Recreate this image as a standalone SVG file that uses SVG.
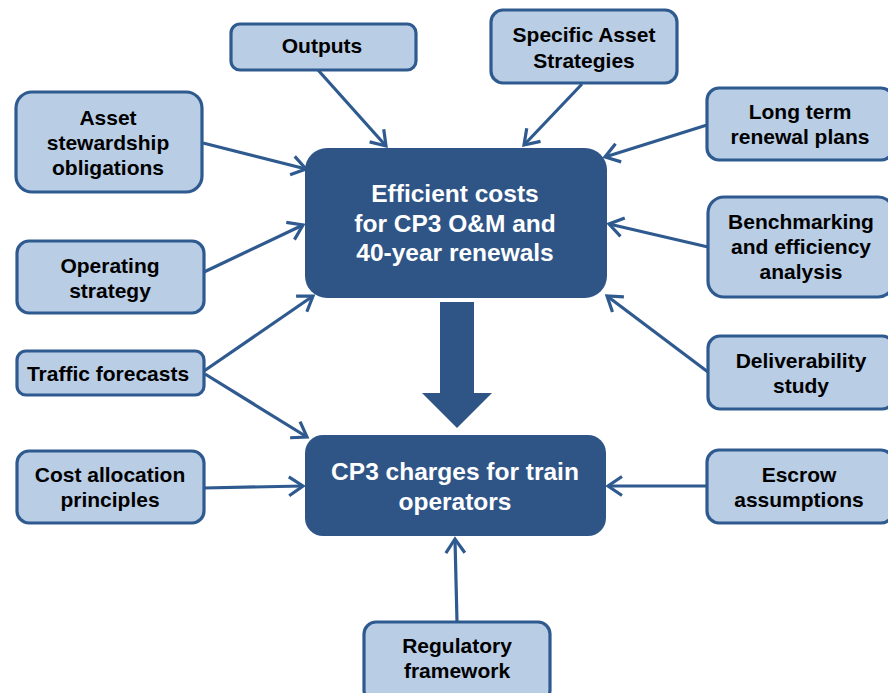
<svg xmlns="http://www.w3.org/2000/svg" width="888" height="693" viewBox="0 0 888 693">
<style>
.box{fill:#b9cde5;stroke:#2f5a8f;stroke-width:3.2}
.main{fill:#2f5587}
.t{font-family:"Liberation Sans",Arial,sans-serif;font-weight:bold;font-size:21px;fill:#000;text-anchor:middle}
.w{font-family:"Liberation Sans",Arial,sans-serif;font-weight:bold;font-size:24.5px;fill:#fff;text-anchor:middle}
.c{stroke:#2f5a8f;stroke-width:3.2;fill:none;marker-end:url(#ah)}
</style>
<defs>
<marker id="ah" markerUnits="userSpaceOnUse" markerWidth="24" markerHeight="24" refX="15" refY="10" orient="auto" overflow="visible">
<path d="M1,0.5 L15,10 L1,19.5" fill="none" stroke="#2f5a8f" stroke-width="3.2"/>
</marker>
</defs>
<rect width="888" height="693" fill="#fff"/>
<g id="connectors">
<line class="c" x1="318" y1="70" x2="386" y2="146"/>
<line class="c" x1="203" y1="143" x2="306" y2="169"/>
<line class="c" x1="204" y1="272" x2="303" y2="225"/>
<line class="c" x1="204" y1="371" x2="313" y2="296"/>
<line class="c" x1="205" y1="374" x2="307" y2="437"/>
<line class="c" x1="204" y1="488" x2="303" y2="486"/>
<line class="c" x1="457" y1="622" x2="455" y2="539"/>
<line class="c" x1="707" y1="486" x2="608" y2="486"/>
<line class="c" x1="708" y1="372" x2="607" y2="296"/>
<line class="c" x1="708" y1="247" x2="609" y2="224"/>
<line class="c" x1="707" y1="125" x2="605" y2="157"/>
<line class="c" x1="582" y1="84" x2="524" y2="145"/>
<polygon points="440,302 474,302 474,393 492,393 457,428 422,393 440,393" fill="#2f5587"/>
</g>
<g id="n-main1">
<rect class="main" x="305" y="148" width="302" height="150" rx="22"/>
<text class="w" x="455" y="202">Efficient costs</text>
<text class="w" x="455" y="232">for CP3 O&amp;M and</text>
<text class="w" x="455" y="261">40-year renewals</text>
</g>
<g id="n-main2">
<rect class="main" x="305" y="435" width="301" height="101" rx="18"/>
<text class="w" x="455" y="480">CP3 charges for train</text>
<text class="w" x="455" y="510">operators</text>
</g>
<g id="n-outputs">
<rect class="box" x="231" y="24" width="185" height="46" rx="9"/>
<text class="t" x="322" y="53">Outputs</text>
</g>
<g id="n-asset">
<rect class="box" x="16" y="92" width="186" height="100" rx="16"/>
<text class="t" x="108" y="125">Asset</text>
<text class="t" x="108" y="150">stewardship</text>
<text class="t" x="108" y="175">obligations</text>
</g>
<g id="n-operating">
<rect class="box" x="17" y="241" width="187" height="72" rx="12"/>
<text class="t" x="110" y="273">Operating</text>
<text class="t" x="110" y="298">strategy</text>
</g>
<g id="n-traffic">
<rect class="box" x="17" y="351" width="187" height="44" rx="9"/>
<text class="t" x="108" y="381">Traffic forecasts</text>
</g>
<g id="n-cost">
<rect class="box" x="17" y="451" width="187" height="72" rx="12"/>
<text class="t" x="110" y="482">Cost allocation</text>
<text class="t" x="110" y="507">principles</text>
</g>
<g id="n-regulatory">
<rect class="box" x="364" y="622" width="186" height="80" rx="12"/>
<text class="t" x="457" y="653">Regulatory</text>
<text class="t" x="457" y="678">framework</text>
</g>
<g id="n-specific">
<rect class="box" x="491" y="10" width="186" height="73" rx="12"/>
<text class="t" x="584" y="42">Specific Asset</text>
<text class="t" x="584" y="68">Strategies</text>
</g>
<g id="n-longterm">
<rect class="box" x="707" y="88" width="186" height="72" rx="12"/>
<text class="t" x="800" y="119">Long term</text>
<text class="t" x="800" y="144">renewal plans</text>
</g>
<g id="n-bench">
<rect class="box" x="708" y="197" width="186" height="100" rx="16"/>
<text class="t" x="801" y="229">Benchmarking</text>
<text class="t" x="801" y="254">and efficiency</text>
<text class="t" x="801" y="279">analysis</text>
</g>
<g id="n-deliver">
<rect class="box" x="708" y="336" width="186" height="73" rx="12"/>
<text class="t" x="801" y="368">Deliverability</text>
<text class="t" x="801" y="393">study</text>
</g>
<g id="n-escrow">
<rect class="box" x="707" y="450" width="186" height="73" rx="12"/>
<text class="t" x="799" y="482">Escrow</text>
<text class="t" x="799" y="507">assumptions</text>
</g>
</svg>
